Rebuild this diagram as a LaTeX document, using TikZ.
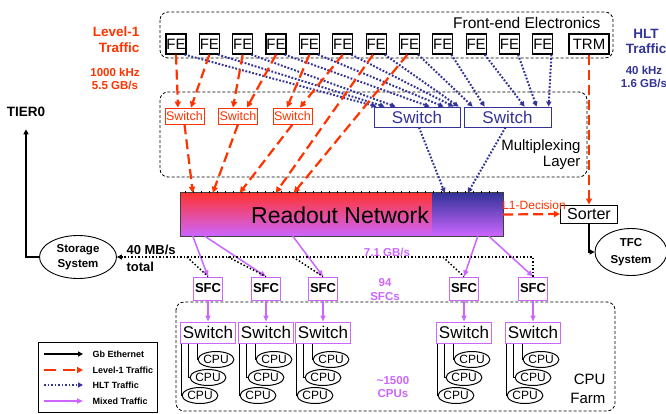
\documentclass[tikz,border=0pt]{standalone}
\usepackage{fontspec}
\setmainfont{Liberation Sans}
\usetikzlibrary{arrows.meta,shapes.geometric,calc}
\definecolor{lred}{HTML}{FF3300}
\definecolor{hblue}{HTML}{333399}
\definecolor{mviol}{HTML}{CC66FF}
\definecolor{rtop}{HTML}{FF3333}
\newcommand\fsz[2]{\fontsize{#1}{#2}\selectfont}
\begin{document}
\begin{tikzpicture}[x=1pt,y=-1pt,
  dbox/.style={draw, line width=0.8pt, dash pattern=on 3pt off 2pt, rounded corners=8pt},
  febox/.style={draw, line width=1.2pt, minimum width=20pt, minimum height=20pt, inner sep=0pt, fill=white, font=\fsz{15}{15}},
  rsw/.style={draw=lred, text=lred, line width=0.8pt, minimum width=39pt, minimum height=16pt, inner sep=0pt, fill=white, font=\fsz{12.5}{12.5}},
  bsw/.style={draw=hblue, text=hblue, line width=0.8pt, minimum height=20pt, inner sep=0pt, fill=white, font=\fsz{17}{17}},
  fsw/.style={draw=mviol, line width=1pt, minimum width=55pt, minimum height=21pt, inner sep=0pt, fill=white, font=\fsz{17}{17}},
  sfcbox/.style={draw=mviol, line width=1pt, minimum width=29pt, minimum height=23pt, inner sep=0pt, fill=white, font=\bfseries\fsz{13}{13}},
  cpu/.style={draw, ellipse, line width=1pt, minimum width=30pt, minimum height=16pt, inner sep=0pt, fill=white, font=\fsz{12}{12}},
  oval/.style={draw, ellipse, line width=0.9pt, inner sep=0pt, fill=white, align=center},
  hlt/.style={draw=hblue, line width=2pt, dash pattern=on 1.8pt off 1.7pt, -{Triangle[length=5pt,width=5pt]}},
  l1/.style={draw=lred, line width=2.2pt, dash pattern=on 10pt off 5pt, -{Triangle[length=6pt,width=6pt]}},
  mix/.style={draw=mviol, line width=1.5pt, -{Triangle[length=6pt,width=5pt]}},
  gbe/.style={draw=black, line width=1.5pt, dash pattern=on 1.5pt off 2pt},
  gb/.style={draw=black, line width=1.2pt, -{Triangle[length=5pt,width=5pt]}},
  cpul/.style={draw=black, line width=1pt},
  lbl/.style={font=\bfseries\fsz{11.5}{13.5}, align=center}
]
\useasboundingbox (0,0) rectangle (666,413);

% dashed regions
\draw[dbox] (160,12) rectangle (613,58);
\draw[dbox] (160,92) rectangle (587,177);
\draw[dbox] (176,302) rectangle (615,411);
\node[anchor=east, font=\fsz{15.5}{15.5}] (fel) at (604,23) {Front-end Electronics};
\node[anchor=east, align=right, font=\fsz{15}{16}] (mxl) at (584,155) {Multiplexing\\Layer};
\node[anchor=east, align=right, font=\fsz{15}{19}] (cfl) at (609,389) {CPU\\Farm};

% side labels
\node[anchor=east, align=right, text=lred, font=\bfseries\fsz{13.5}{16}] (l1t) at (143,40) {Level-1\\Traffic};
\node[lbl, text=lred] (l1r) at (115,79) {1000 kHz\\5.5 GB/s};
\node[align=center, text=hblue, font=\bfseries\fsz{13.5}{15}] (hltt) at (646,41) {HLT\\Traffic};
\node[lbl, text=hblue] (hltr) at (644,77) {40 kHz\\1.6 GB/s};
\node[font=\bfseries\fsz{13.5}{13.5}] (tier) at (26,112) {TIER0};

% front end nodes
\foreach \i in {1,...,12} \node[febox] (fe\i) at ({176+33.35*(\i-1)},44) {FE};
\node[febox, minimum width=40pt] (trm) at (589,44) {TRM};

% switches
\node[rsw] (rsw1) at (184.5,116) {Switch};
\node[rsw] (rsw2) at (238,116) {Switch};
\node[rsw] (rsw3) at (292.5,116) {Switch};
\node[bsw, minimum width=86pt] (bsw1) at (417,117) {Switch};
\node[bsw, minimum width=87pt] (bsw2) at (507.5,117) {Switch};

% readout network
\node[minimum width=251pt, minimum height=43pt, inner sep=0pt, top color=rtop, bottom color=mviol] (rnr) at (306.5,214.5) {};
\node[minimum width=71pt, minimum height=43pt, inner sep=0pt, top color=hblue, bottom color=mviol] (rnb) at (467.5,214.5) {};
\draw[line width=1pt, black!75] (rnr.north west) rectangle (rnb.south east);
\foreach \t in {0,...,39} \draw[line width=0.4pt] ($(rnr.north west)+(8*\t+4,0)$) -- ++(0,-2);
\node[font=\fsz{23}{23}] (rn) at (340,215) {Readout Network};

% sorter, TFC, storage
\node[draw, line width=1pt, minimum width=57pt, minimum height=18pt, inner sep=0pt, fill=white, font=\fsz{16}{16}] (sorter) at (589,214) {Sorter};
\node[oval, minimum width=72pt, minimum height=47pt, font=\bfseries\fsz{11.5}{16.5}] (tfc) at (631,252) {TFC\\System};
\node[oval, minimum width=77pt, minimum height=43pt, font=\bfseries\fsz{11.5}{15}] (stor) at (78,257) {Storage\\System};
\node[anchor=west, align=left, font=\bfseries\fsz{13}{16.5}] (mbs) at (123,258.5) {40 MB/s\\total};

% HLT traffic
\foreach \i/\s/\d in {1/bsw1/3, 2/bsw1/11, 3/bsw1/22, 4/bsw1/56, 5/bsw1/70, 6/bsw1/80, 7/bsw1/85, 8/bsw2/9, 9/bsw2/21, 10/bsw2/61, 11/bsw2/73, 12/bsw2/85}
  \draw[hlt] ($(fe\i.south east)+(-2,0)$) -- ($(\s.north west)+(\d,0)$);
\draw[hlt] ($(bsw1.south)+(2,0)$) -- ($(rnb.north west)+(13,0)$);
\draw[hlt] ($(bsw2.south)+(-2,0)$) -- ($(rnb.north west)+(36,0)$);

% Level-1 traffic
\draw[l1] (fe1.south) -- ($(rsw1.north)+(-6.5,0)$);
\draw[l1] (fe2.south) -- ($(rsw1.north)+(6.5,0)$);
\draw[l1] (fe3.south) -- ($(rsw2.north)+(-5,0)$);
\draw[l1] (fe4.south) -- ($(rsw2.north)+(9,0)$);
\draw[l1] (fe5.south) -- ($(rsw3.north)+(-5.5,0)$);
\draw[l1] (fe6.south) -- ($(rsw3.north)+(7.5,0)$);
\draw[l1] (rsw1.south) -- ($(rnr.north west)+(12,0)$);
\draw[l1] (rsw2.south) -- ($(rnr.north west)+(32,0)$);
\draw[l1] (rsw3.south) -- ($(rnr.north west)+(59,0)$);
\draw[l1] ($(fe7.south)+(-3,0)$) -- ($(rnr.north west)+(95,0)$);
\draw[l1] ($(fe8.south)+(-2,0)$) -- ($(rnr.north west)+(113,0)$);
\draw[l1] (trm.south) -- (sorter.north);
\draw[l1] (rnb.east) -- (sorter.west);
\node[text=lred, font=\fsz{12}{12}] (l1d) at (534,205) {L1-Decision};

% SFCs
\foreach \k/\x in {1/208, 2/266, 3/323, 4/464, 5/533} {
  \node[sfcbox] (sfc\k) at (\x,288.5) {SFC};
  \node[fsw] (sw\k) at (\x,332.5) {Switch};
  \draw[mix] (sfc\k.south) -- (sw\k.north);
  \node[cpu] (cpu\k a) at ($(sw\k.south west)+(36,16)$) {CPU};
  \node[cpu] (cpu\k b) at ($(sw\k.south west)+(28,34)$) {CPU};
  \node[cpu] (cpu\k c) at ($(sw\k.south west)+(20,52)$) {CPU};
  \draw[cpul] ($(sw\k.south west)+(17,0)$) |- (cpu\k a.west);
  \draw[cpul] ($(sw\k.south west)+(8,0)$) |- (cpu\k b.west);
  \draw[cpul] ($(sw\k.south west)+(1.5,0)$) |- (cpu\k c.west);
}

% mixed traffic from readout network
\draw[mix] ($(rnr.south west)+(12,0)$) -- (sfc1.north);
\draw[mix] ($(rnr.south west)+(24,0)$) -- (sfc2.north);
\draw[mix] ($(rnr.south west)+(112,0)$) -- (sfc3.north);
\draw[mix] ($(rnb.south west)+(46,0)$) -- (sfc4.north);
\draw[mix] ($(rnb.south west)+(57,0)$) -- (sfc5.north);

% Gb ethernet to storage
\coordinate (g1) at (187,257);
\coordinate (g2) at (228,257);
\coordinate (g3) at (293,257);
\coordinate (g4) at (443,257);
\draw[gbe, -{Triangle[length=5pt,width=5pt]}] (sfc5.north) |- (stor.east);
\draw[gbe] (g1) -- (sfc1.north);
\draw[gbe] (g2) -- (sfc2.north);
\draw[gbe] (g3) -- (sfc3.north);
\draw[gbe] (g4) -- (sfc4.north);
\draw[gb, shorten >=9pt] (stor.west) -| (tier.south);
\draw[gb] (sorter.south) |- (tfc.west);

% violet labels
\node[lbl, text=mviol] (gbs) at (387,252) {7.1 GB/s};
\node[lbl, text=mviol] (nsfc) at (385,289.5) {94\\SFCs};
\node[lbl, text=mviol] (ncpu) at (393,387) {\textasciitilde1500\\CPUs};

% legend
\draw[line width=0.8pt] (38,342) rectangle (157,412);
\coordinate (la1) at (44,354); \coordinate (lb1) at (83,354);
\coordinate (la2) at (44,370); \coordinate (lb2) at (83,370);
\coordinate (la3) at (44,385); \coordinate (lb3) at (83,385);
\coordinate (la4) at (44,401); \coordinate (lb4) at (83,401);
\draw[gb] (la1) -- (lb1);
\draw[l1, dash pattern=on 12pt off 7pt] (la2) -- (lb2);
\draw[hlt] (la3) -- (lb3);
\draw[mix] (la4) -- (lb4);
\node[anchor=west, font=\bfseries\fsz{9}{9}] (lt1) at (89,354) {Gb Ethernet};
\node[anchor=west, font=\bfseries\fsz{9}{9}] (lt2) at (89,370) {Level-1 Traffic};
\node[anchor=west, font=\bfseries\fsz{9}{9}] (lt3) at (89,385) {HLT Traffic};
\node[anchor=west, font=\bfseries\fsz{9}{9}] (lt4) at (89,401) {Mixed Traffic};
\end{tikzpicture}
\end{document}
